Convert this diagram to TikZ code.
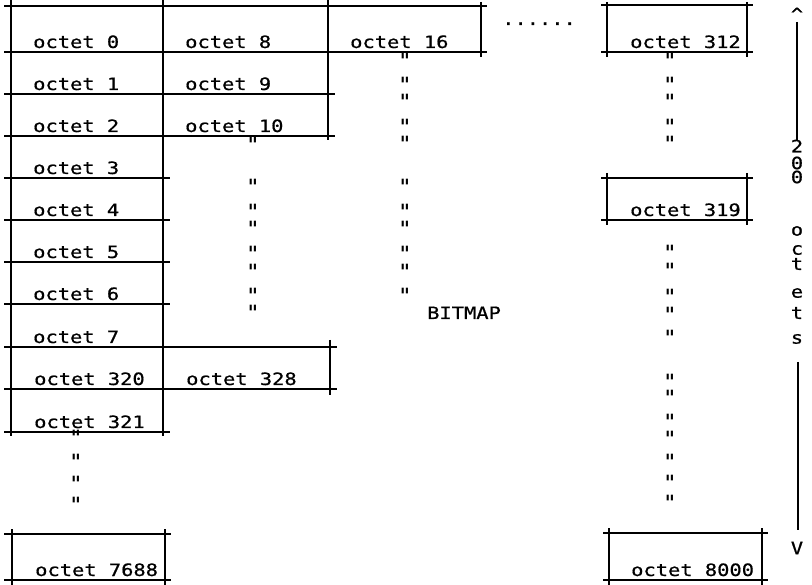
\documentclass[tikz,border=0pt]{standalone}
\usepackage{fontspec}
\newfontfamily\mono[FakeStretch=1.2,FakeBold=0.7]{DejaVu Sans Mono}
\newfontfamily\dittofont[FakeStretch=0.8]{DejaVu Sans Mono Bold}
\begin{document}
\begin{tikzpicture}[x=1pt,y=-1pt,
  rule/.style={line width=1.2pt, black},
  lbl/.style={font=\fontsize{17}{17}\selectfont\mono, inner sep=0pt, anchor=base west},
  dit/.style={font=\fontsize{21}{21}\selectfont\dittofont, inner sep=0pt, anchor=base},
  side/.style={font=\fontsize{17}{17}\selectfont\mono, inner sep=0pt, anchor=center}]
\useasboundingbox (0,0) rectangle (812,585);

% ---- horizontal rules ----
\draw[rule] (4,6) -- (487,6);
\draw[rule] (4,52) -- (487,52);
\draw[rule] (4,94) -- (335,94);
\draw[rule] (4,136) -- (335,136);
\foreach \y in {178,220,262,304,432} \draw[rule] (4,\y) -- (170,\y);
\draw[rule] (4,347) -- (337,347);
\draw[rule] (4,389) -- (337,389);
% boxes col 4
\draw[rule] (601,5) -- (753,5);
\draw[rule] (601,52) -- (753,52);
\draw[rule] (601,178) -- (753,178);
\draw[rule] (601,220) -- (753,220);
% bottom boxes
\draw[rule] (4,534) -- (171,534);
\draw[rule] (4,580) -- (171,580);
\draw[rule] (603,533) -- (768,533);
\draw[rule] (603,580) -- (768,580);

% ---- vertical rules ----
\draw[rule] (11,0) -- (11,436);
\draw[rule] (163,0) -- (163,436);
\draw[rule] (328,0) -- (328,140);
\draw[rule] (481,2) -- (481,57);
\draw[rule] (330,340) -- (330,395);
\draw[rule] (607,2) -- (607,57);
\draw[rule] (747,2) -- (747,57);
\draw[rule] (607,173) -- (607,225);
\draw[rule] (747,173) -- (747,225);
\draw[rule] (12,529) -- (12,585);
\draw[rule] (165,529) -- (165,585);
\draw[rule] (609,528) -- (609,585);
\draw[rule] (762,528) -- (762,585);

% ---- labels ----
\node[lbl] (o0) at (33,48) {octet 0};
\node[lbl] (o1) at (33,90) {octet 1};
\node[lbl] (o2) at (33,132) {octet 2};
\node[lbl] (o3) at (33,174) {octet 3};
\node[lbl] (o4) at (33,216) {octet 4};
\node[lbl] (o5) at (33,258) {octet 5};
\node[lbl] (o6) at (33,300) {octet 6};
\node[lbl] (o7) at (33,343) {octet 7};
\node[lbl] (o320) at (34,385) {octet 320};
\node[lbl] (o321) at (34,428) {octet 321};
\node[lbl] (o7688) at (35,576) {octet 7688};
\node[lbl] (o8) at (185,48) {octet 8};
\node[lbl] (o9) at (185,90) {octet 9};
\node[lbl] (o10) at (185,132) {octet 10};
\node[lbl] (o328) at (186,385) {octet 328};
\node[lbl] (o16) at (350,48) {octet 16};
\node[lbl] (o312) at (630,48) {octet 312};
\node[lbl] (o319) at (630,216) {octet 319};
\node[lbl] (o8000) at (631,576) {octet 8000};
\node[lbl] (bitmap) at (427,319) {BITMAP};
\node[lbl] (dots) at (502,25) {......};

% ---- ditto marks ----
\foreach \y [count=\i] in {433,457,478,499}
  \node[dit] (da\i) at (76,\y+13) {"};
\foreach \y [count=\i] in {140,182,207,224,249,267,291,308}
  \node[dit] (db\i) at (253,\y+13) {"};
\foreach \y [count=\i] in {56,80,97,122,139,182,207,224,249,267,291}
  \node[dit] (dc\i) at (405,\y+13) {"};
\foreach \y [count=\i] in {56,80,97,122,139,248,266,292,310,333,377,393,417,434,456,477,498}
  \node[dit] (dd\i) at (670,\y+13) {"};

% ---- side scale ----
\node[side] (up) at (797,14) {\^{}};
\coordinate (s1) at (797,22);
\coordinate (s2) at (797,140);
\draw[rule] (s1) -- (s2);
\node[side] (c2) at (797,146) {2};
\node[side] (c0a) at (797,163) {0};
\node[side] (c0b) at (797,177) {0};
\node[side] (co) at (797,231) {o};
\node[side] (cc) at (797,250) {c};
\node[side] (ct) at (797,264) {t};
\node[side] (ce) at (797,293) {e};
\node[side] (ct2) at (797,313) {t};
\node[side] (cs) at (797,339) {s};
\coordinate (s3) at (798,362);
\coordinate (s4) at (798,530);
\draw[rule] (s3) -- (s4);
\node[side] (dn) at (797,548) {V};
\end{tikzpicture}
\end{document}
